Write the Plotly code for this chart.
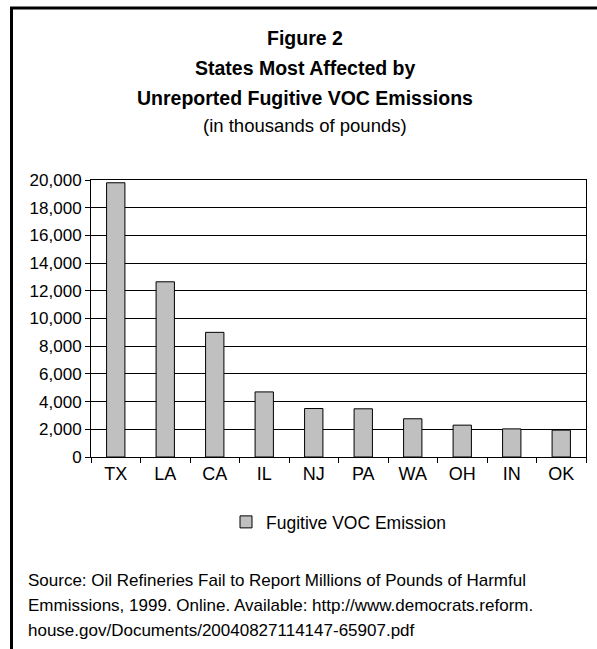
import plotly.graph_objects as go

# Fugitive VOC emissions by state (thousands of pounds)
states = ["TX", "LA", "CA", "IL", "NJ", "PA", "WA", "OH", "IN", "OK"]
emissions = [19800, 12650, 9000, 4700, 3500, 3480, 2760, 2300, 2030, 1940]
y_ticks = list(range(0, 20001, 2000))
series_name = "Fugitive VOC Emission"

title_lines = [
    ("Figure 2", True),
    ("States Most Affected by", True),
    ("Unreported Fugitive VOC Emissions", True),
    ("(in thousands of pounds)", False),
]
source_lines = [
    "Source: Oil Refineries Fail to Report Millions of Pounds of Harmful",
    "Emmissions, 1999. Online. Available: http://www.democrats.reform.",
    "house.gov/Documents/20040827114147-65907.pdf",
]

FONT = "Liberation Sans, Arial, sans-serif"
W, H = 597, 649
L, R, T, B = 91, 586, 180, 457  # plot area in pixels


def px(x):
    return (x - L) / (R - L)


def py(y):
    return (B - y) / (B - T)


fig = go.Figure(
    go.Bar(
        x=states,
        y=emissions,
        name=series_name,
        marker=dict(color="#C0C0C0", line=dict(color="black", width=1)),
        showlegend=True,
    )
)

annotations = []
title_y = [38, 68, 98, 126]
for (text, bold), yy in zip(title_lines, title_y):
    annotations.append(dict(
        text=f"<b>{text}</b>" if bold else text,
        x=px(305), y=py(yy), xref="paper", yref="paper",
        xanchor="center", yanchor="middle", showarrow=False,
        font=dict(family=FONT, size=19.5 if bold else 18.5, color="black"),
    ))

for i, line in enumerate(source_lines):
    annotations.append(dict(
        text=line, x=px(26), y=py(580 + 25 * i), xref="paper", yref="paper",
        xanchor="left", yanchor="middle", showarrow=False,
        font=dict(family=FONT, size=17, color="black"),
    ))

shapes = [
    # outer frame (left and top edges)
    dict(type="line", xref="paper", yref="paper",
         x0=px(11.5), y0=py(700), x1=px(11.5), y1=py(8),
         line=dict(color="black", width=3)),
    dict(type="line", xref="paper", yref="paper",
         x0=px(10), y0=py(8), x1=px(650), y1=py(8),
         line=dict(color="black", width=3)),
]

fig.update_layout(
    width=W, height=H,
    margin=dict(l=L, r=W - R, t=T, b=H - B, pad=0),
    paper_bgcolor="white", plot_bgcolor="white",
    bargap=0.63,
    font=dict(family=FONT, size=17, color="black"),
    annotations=annotations,
    shapes=shapes,
    legend=dict(
        orientation="h", x=px(226), y=py(522), xanchor="left", yanchor="middle",
        font=dict(family=FONT, size=17.5, color="black"),
        bgcolor="rgba(0,0,0,0)",
    ),
)
fig.update_xaxes(
    showline=True, linecolor="black", linewidth=1, mirror=True,
    ticks="outside", tickson="boundaries", ticklen=5, tickcolor="black",
    showgrid=False, tickfont=dict(size=18),
)
fig.update_yaxes(
    range=[0, 20000], tickvals=y_ticks, tickformat=",d",
    showline=True, linecolor="black", linewidth=1, mirror=True,
    ticks="outside", ticklen=5, tickcolor="black",
    showgrid=True, gridcolor="black", gridwidth=1, zeroline=False,
    tickfont=dict(size=17),
)

fig.write_html("out.html")
